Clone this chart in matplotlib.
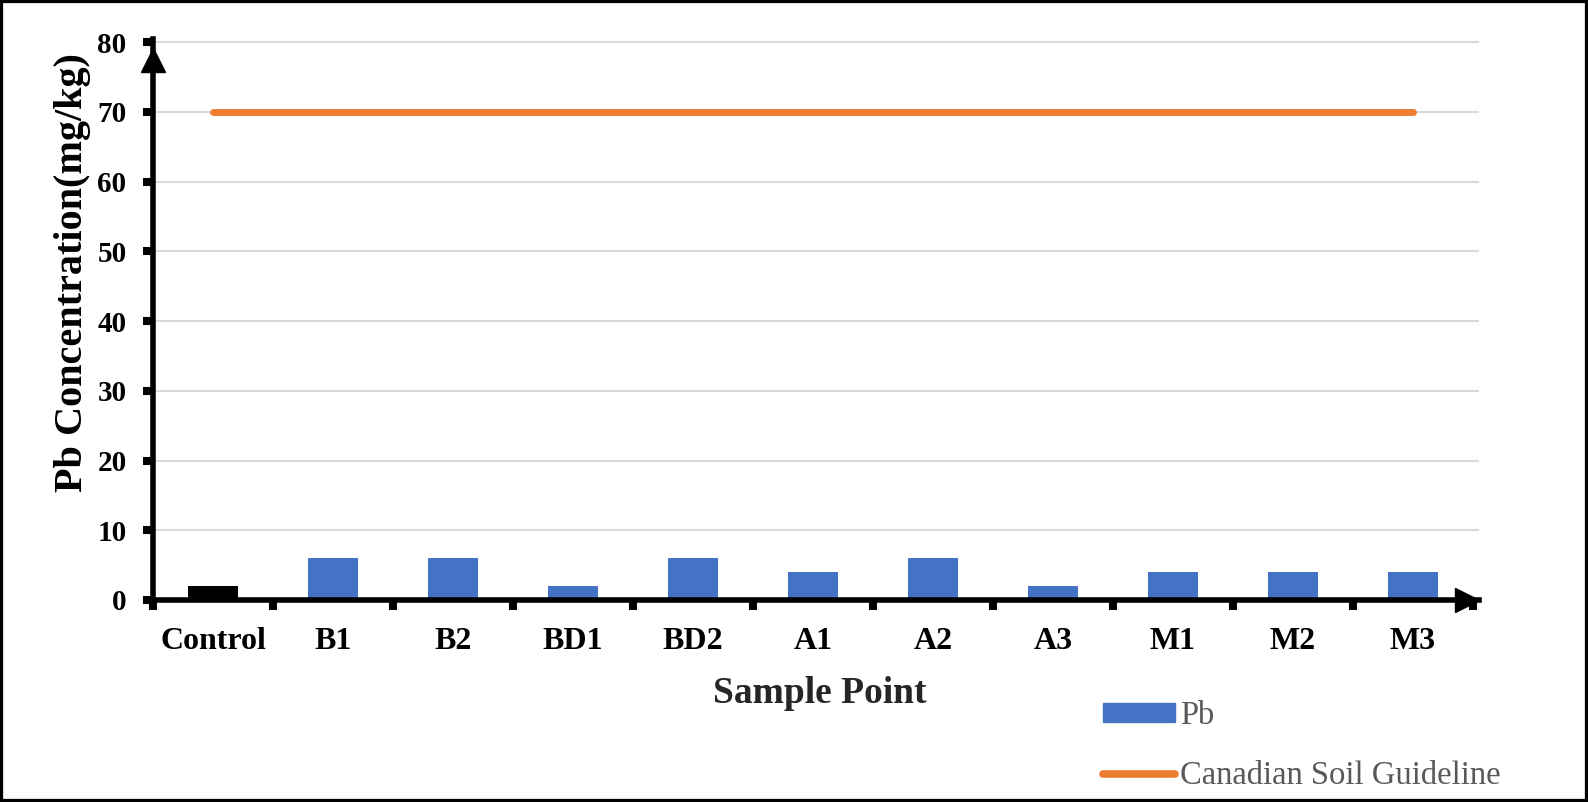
import matplotlib
matplotlib.use("Agg")
import matplotlib.pyplot as plt
from matplotlib.patches import Patch, Rectangle
from matplotlib.lines import Line2D

# datos del grafico
samples = ['Control', 'B1', 'B2', 'BD1', 'BD2', 'A1', 'A2', 'A3', 'M1', 'M2', 'M3']
pb_values = [2, 6, 6, 2, 6, 4, 6, 2, 4, 4, 4]
guideline = [70, 70, 70, 70, 70, 70, 70, 70, 70, 70, 70]
y_ticks = [0, 10, 20, 30, 40, 50, 60, 70, 80]

plt.rcParams['font.family'] = ['Liberation Serif', 'DejaVu Serif']

W, H = 1588, 802
fig = plt.figure(figsize=(W / 100, H / 100), dpi=100)
top_px = 42 - 0.5 * 6.975
ax = fig.add_axes([153 / W, 1 - 600 / H, (1479 - 153) / W, (600 - top_px) / H])

x = list(range(len(samples)))
colors = ['black'] + ['#4472C4'] * (len(samples) - 1)
ax.bar(x, pb_values, width=0.41, color=colors, zorder=2)
ax.plot(x, guideline, color='#ED7D31', lw=5, solid_capstyle='round', zorder=3)

ax.set_xlim(-0.5, 10.55)
ax.set_ylim(0, 80.5)

# ejes
for s in ['top', 'right']:
    ax.spines[s].set_visible(False)
for s in ['left', 'bottom']:
    ax.spines[s].set_linewidth(4)
    ax.spines[s].set_color('black')
    ax.spines[s].set_zorder(4)

ax.plot(-0.5, 77.4, marker='^', ms=17, color='black', clip_on=False, zorder=5)
ax.plot(10.45, 0, marker='>', ms=17, color='black', clip_on=False, zorder=5)

ax.set_yticks(y_ticks)
ax.set_yticklabels([str(v) for v in y_ticks], fontsize=21, fontweight='bold')
ax.tick_params(axis='y', direction='out', length=7, width=5.8, pad=12, color='black')
ax.grid(axis='y', color='#D9D9D9', lw=1.5)
ax.set_axisbelow(True)

ax.set_xticks(x)
ax.set_xticklabels(samples, fontsize=23, fontweight='bold')
ax.tick_params(axis='x', which='major', length=0, pad=19.5)
ax.set_xticks([i - 0.5 for i in range(len(samples) + 1)], minor=True)
ax.tick_params(axis='x', which='minor', direction='out', length=7, width=5.8, color='black')

ax.set_xlabel('Sample Point', fontsize=27, fontweight='bold', color='#262626', va='baseline')
ax.xaxis.set_label_coords(0.5026, (600 - 703) / (600 - top_px))
ax.set_ylabel('Pb Concentration(mg/kg)', fontsize=29, fontweight='bold', va='center')
ax.yaxis.set_label_coords((73 - 153) / (1479 - 153), (600 - 272.5) / (600 - top_px))

handles = [Patch(color='#4472C4'),
           Line2D([0], [0], color='#ED7D31', lw=5.5, solid_capstyle='round')]
fig.legend(handles, ['Pb', 'Canadian Soil Guideline'], loc='center left',
           bbox_to_anchor=(1103 / W, 1 - 746 / H), frameon=False, fontsize=23.5,
           labelcolor='#595959', handlelength=2.2, handleheight=0.53,
           handletextpad=0.15, labelspacing=0.9, borderpad=0, borderaxespad=0)

fig.add_artist(Rectangle((0, 0), 1, 1, transform=fig.transFigure, fill=False,
                         lw=4.5, ec='black'))

fig.savefig('out.png', dpi=100)
